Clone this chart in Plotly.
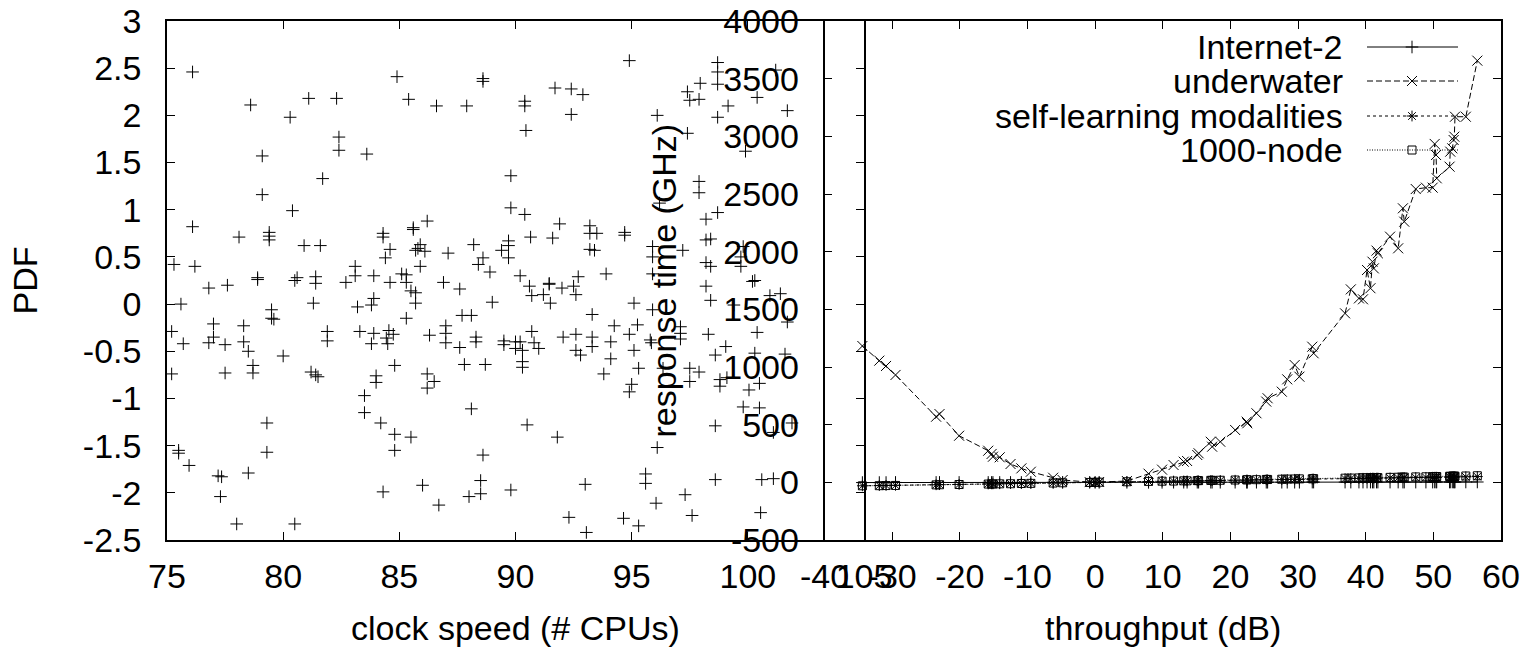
import plotly.graph_objects as go

W, H = 1526, 648

# ---------------- Left panel data: PDF vs clock speed ----------------
pdf_x = [
    76.1, 78.6, 80.3, 81.1, 82.3, 84.9, 85.4, 86.6, 87.9, 88.6, 88.6, 82.4, 82.4, 83.6, 79.1, 81.7, 79.1, 80.4,
    89.8, 89.8, 76.1, 78.1, 79.4, 79.4, 79.4, 80.9, 81.6, 84.3, 84.3, 84.6, 84.4, 85.6, 85.6, 86.2, 85.9, 85.7,
    86.1, 85.8, 87.1, 88.2, 89.4, 89.7, 89.7, 89.7, 88.6, 88.4, 88.9, 75.3, 76.2, 83.1, 83.1, 83.9, 85.1, 85.3,
    85.9, 78.9, 78.9, 80.6, 80.5, 81.4, 81.4, 82.7, 84.6, 85.3, 86.9,
    76.8, 77.6, 87.6, 85.5, 85.7, 83.9, 85.7, 89.0, 75.6, 81.3, 83.2, 83.8, 79.5, 79.5, 79.6, 85.3, 87.7, 88.1,
    77.0, 78.3, 87.0, 75.2, 81.9, 81.9, 83.3, 83.9, 84.55, 84.74, 84.44, 86.3, 87.0, 88.3, 88.3, 89.5, 89.5,
    75.7, 76.8, 77.0, 77.5, 78.3, 78.5, 83.8, 84.5, 87.0, 87.6, 80.0, 84.8, 87.8, 88.7, 75.2, 77.5, 78.7, 78.7,
    81.2, 81.4, 81.5, 84.0, 84.0, 86.2, 86.5, 86.2, 83.5, 83.5, 84.2, 84.8, 85.5, 84.8, 88.1, 88.6, 79.3, 79.3,
    75.5, 75.5, 75.95, 77.2, 77.35, 78.5, 77.3, 84.3, 86.0, 88.5, 88.5, 88.0, 89.8, 86.7, 78.0, 80.5,
    94.9, 91.7, 92.4, 92.9, 90.4, 90.4, 92.4, 90.45, 98.7, 98.7, 98.7, 97.95, 97.4, 97.5, 97.9, 99.15, 98.7,
    97.4, 96.1, 100.4, 101.7, 101.2, 99.9, 97.9, 97.9, 96.2, 98.7, 98.2, 90.4, 91.9, 90.65, 91.6, 93.2, 93.2,
    93.5, 94.7, 94.7, 93.2, 93.4, 97.2, 95.9, 95.9, 98.2, 98.4, 99.8, 99.7, 98.2, 98.4, 99.7, 100.3, 90.2,
    91.45, 92.7, 93.9, 95.9,
    90.6, 91.45, 92.0, 92.5, 90.7, 91.2, 91.5, 92.6, 93.3, 95.1, 95.9, 98.2, 98.4, 100.2, 99.4, 100.95, 101.4,
    101.7, 90.7, 90.0, 90.2, 90.0, 90.3, 90.3, 90.3, 90.8, 91.0, 92.05, 92.6, 92.6, 92.8, 93.3, 93.3, 94.1,
    94.1, 93.8, 94.25, 94.9, 95.25, 95.1, 95.3, 95.0, 94.9, 95.8, 95.85, 96.35, 97.1, 97.1, 97.1, 98.3, 97.5,
    97.9, 97.5, 98.6, 99.05, 98.8, 98.8, 99.1, 100.4, 100.3, 101.6, 100.05, 100.5, 99.8, 100.5, 98.6, 101.1,
    101.9, 90.5, 91.8, 96.1, 93.0, 95.6, 95.6, 96.05, 97.3, 98.6, 100.6, 101.1, 100.55, 97.6, 92.3, 94.65,
    95.3, 93.05,
]
pdf_y = [
    2.46, 2.11, 1.98, 2.18, 2.18, 2.41, 2.17, 2.10, 2.10, 2.39, 2.36, 1.77, 1.63, 1.59, 1.57, 1.33, 1.16, 0.99,
    1.36, 1.02, 0.82, 0.71, 0.76, 0.72, 0.68, 0.62, 0.62, 0.75, 0.71, 0.58, 0.49, 0.81, 0.79, 0.88, 0.63, 0.57,
    0.56, 0.59, 0.54, 0.63, 0.57, 0.67, 0.62, 0.49, 0.49, 0.42, 0.34, 0.42, 0.40, 0.40, 0.30, 0.30, 0.32, 0.31,
    0.40, 0.28, 0.26, 0.28, 0.25, 0.29, 0.22, 0.23, 0.23, 0.23, 0.23,
    0.17, 0.20, 0.16, 0.14, 0.12, 0.06, 0.01, 0.02, 0.00, 0.01, -0.03, -0.01, -0.06, -0.15, -0.16, -0.15, -0.12, -0.12,
    -0.21, -0.23, -0.23, -0.29, -0.29, -0.39, -0.29, -0.31, -0.28, -0.32, -0.36, -0.33, -0.31, -0.35, -0.40, -0.39, -0.43,
    -0.42, -0.41, -0.35, -0.43, -0.40, -0.50, -0.42, -0.42, -0.41, -0.46, -0.55, -0.65, -0.64, -0.64, -0.74, -0.73, -0.65, -0.73,
    -0.72, -0.75, -0.77, -0.76, -0.83, -0.74, -0.82, -0.89, -0.97, -1.15, -1.26, -1.38, -1.41, -1.55, -1.11, -1.60, -1.26, -1.57,
    -1.55, -1.58, -1.71, -1.82, -1.83, -1.79, -2.04, -1.99, -1.92, -1.87, -2.01, -2.04, -1.97, -2.13, -2.33, -2.33,
    2.58, 2.29, 2.28, 2.22, 2.15, 2.10, 2.01, 1.84, 2.56, 2.46, 2.33, 2.34, 2.25, 2.16, 2.17, 2.10, 1.98,
    1.81, 2.00, 2.19, 2.05, 2.48, 1.62, 1.30, 1.18, 1.07, 0.97, 0.90, 0.95, 0.85, 0.71, 0.70, 0.83, 0.75,
    0.75, 0.76, 0.73, 0.58, 0.57, 0.57, 0.61, 0.50, 0.68, 0.69, 0.61, 0.50, 0.44, 0.40, 0.40, 0.25, 0.30,
    0.22, 0.29, 0.32, 0.32,
    0.19, 0.21, 0.17, 0.19, 0.09, 0.10, 0.01, 0.10, -0.11, 0.01, -0.06, 0.19, 0.04, 0.24, -0.01, 0.09, 0.11,
    -0.19, -0.29, -0.40, -0.40, -0.47, -0.49, -0.61, -0.67, -0.41, -0.47, -0.35, -0.32, -0.49, -0.54, -0.35, -0.45, -0.40,
    -0.58, -0.74, -0.23, -0.32, -0.22, -0.49, -0.68, -0.85, -0.93, -0.38, -0.41, -0.68, -0.24, -0.31, -0.37, -0.32, -0.68,
    -0.72, -0.82, -0.54, -0.45, -0.80, -0.87, -0.78, -0.30, -0.52, -0.53, -0.91, -0.84, -1.09, -1.10, -1.29, -1.36,
    -1.26, -1.28, -1.41, -1.52, -1.91, -1.80, -1.90, -2.11, -2.02, -1.86, -1.86, -1.85, -2.21, -2.24, -2.26, -2.27,
    -2.35, -2.42,
]

# ---------------- Right panel data: response time vs throughput ----------------
thr_x = [
    -34.4, -31.9, -30.9, -29.5, -23.5, -23.0, -20.1, -15.8, -15.3, -15.1,
    -14.1, -12.5, -10.9, -9.5, -6.2, -4.8, -0.8, 0.0, 0.6, 4.7,
    7.9, 9.9, 11.6, 13.1, 13.6, 15.1, 15.3, 17.1, 17.3, 18.5,
    20.7, 22.4, 22.5, 23.85, 25.3, 25.5, 27.6, 28.4, 29.5, 30.2,
    32.1, 32.3, 36.95, 37.8, 39.0, 39.6, 40.2, 40.7, 41.0, 41.2,
    41.6, 41.8, 43.6, 44.8, 45.5, 45.7, 47.4, 48.9, 49.9, 50.2,
    50.4, 50.5, 52.4, 52.5, 52.8, 53.0, 53.1, 53.2, 54.8, 56.5,
]
internet2 = [
    -2, -2, -2, -1, -1, -1, -1, -1, -1, -1,
    -1, -1, -1, 0, 0, 0, 0, 0, 0, 0,
    0, 0, 1, 1, 1, 1, 1, 1, 1, 1,
    1, 1, 1, 1, 1, 1, 1, 1, 1, 1,
    2, 2, 2, 2, 2, 2, 2, 2, 2, 2,
    2, 2, 2, 2, 2, 2, 2, 2, 2, 3,
    3, 3, 3, 3, 3, 3, 3, 3, 3, 3,
]
underwater = [
    1182, 1055, 1009, 931, 569, 592, 404, 274, 246, 222,
    217, 159, 121, 92, 40, 20, 2, 0, 3, 11,
    75, 110, 150, 179, 185, 237, 252, 352, 309, 352,
    454, 526, 512, 599, 700, 729, 786, 893, 1017, 916,
    1176, 1119, 1465, 1673, 1595, 1587, 1841, 1683, 1913, 1855,
    2009, 1986, 2130, 2029, 2376, 2260, 2543, 2555, 2555, 2934,
    2838, 2636, 2737, 2867, 2896, 2968, 2997, 3170, 3170, 3656,
]
self_learning = [
    -30, -28, -27, -26, -21, -20, -18, -14, -13, -13,
    -12, -11, -10, -8, -5, -4, -1, 0, 1, 4,
    7, 9, 10, 11, 12, 13, 13, 15, 15, 16,
    18, 19, 19, 21, 22, 22, 24, 25, 26, 26,
    28, 28, 32, 33, 34, 35, 35, 36, 36, 36,
    36, 37, 38, 39, 40, 40, 41, 43, 44, 44,
    44, 44, 46, 46, 46, 47, 47, 47, 48, 50,
]
node1000 = [
    -30, -29, -28, -27, -22, -21, -19, -15, -14, -14,
    -13, -12, -10, -9, -6, -4, -1, 0, 1, 5,
    8, 10, 11, 13, 13, 15, 15, 17, 17, 18,
    20, 22, 22, 23, 25, 25, 27, 28, 29, 30,
    31, 32, 36, 37, 38, 39, 39, 40, 40, 40,
    41, 41, 43, 44, 45, 45, 47, 48, 49, 50,
    50, 50, 52, 52, 52, 53, 53, 53, 55, 57,
]

# ---------------- Tick labels ----------------
left_xticks = [75, 80, 85, 90, 95, 100, 105]
left_xlabels = ["75", "80", "85", "90", "95", "100", "105"]
left_yticks = [-2.5, -2, -1.5, -1, -0.5, 0, 0.5, 1, 1.5, 2, 2.5, 3]
left_ylabels = ["-2.5", "-2", "-1.5", "-1", "-0.5", "0", "0.5", "1", "1.5", "2", "2.5", "3"]
right_xticks = [-40, -30, -20, -10, 0, 10, 20, 30, 40, 50, 60]
right_xlabels = ["-40", "-30", "-20", "-10", "0", "10", "20", "30", "40", "50", "60"]
right_yticks = [-500, 0, 500, 1000, 1500, 2000, 2500, 3000, 3500, 4000]
right_ylabels = ["-500", "0", "500", "1000", "1500", "2000", "2500", "3000", "3500", "4000"]

series_names = ["Internet-2", "underwater", "self-learning modalities", "1000-node"]

FONT = "Liberation Sans, Arial, Helvetica, sans-serif"
FS = 34

def px(x):
    return x / W

def py(y):
    return 1 - y / H

PLOT_TOP, PLOT_BOT = 21, 540
L_LEFT, L_RIGHT = 167, 864
R_LEFT, R_RIGHT = 824.5, 1501

fig = go.Figure()

fig.add_trace(go.Scatter(
    x=pdf_x, y=pdf_y, mode="markers", xaxis="x", yaxis="y",
    marker=dict(symbol="cross-thin-open", size=9, color="black", line=dict(color="black", width=1)),
    showlegend=False, hoverinfo="skip",
))

styles = [
    dict(dash="solid", symbol="cross-thin-open", size=9),
    dict(dash="6px,3px", symbol="x-thin-open", size=10),
    dict(dash="3px,3px", symbol="asterisk-open", size=9),
    dict(dash="1px,1.5px", symbol="square-open", size=8),
]
series = [internet2, underwater, self_learning, node1000]

for name, ys, st in zip(series_names, series, styles):
    fig.add_trace(go.Scatter(
        x=thr_x, y=ys, mode="lines+markers", xaxis="x2", yaxis="y2", name=name,
        line=dict(color="black", width=1, dash=st["dash"]),
        marker=dict(symbol=st["symbol"], size=st["size"], color="black",
                    line=dict(color="black", width=1)),
        showlegend=False, hoverinfo="skip",
    ))

# gnuplot-style key (text left, sample right), drawn on a pixel overlay axis
leg_rows = [47, 81, 116, 150]
for name, st, ry in zip(series_names, styles, leg_rows):
    fig.add_trace(go.Scatter(
        x=[1367, 1458], y=[ry, ry], mode="lines", xaxis="x3", yaxis="y3",
        line=dict(color="black", width=1, dash=st["dash"]),
        showlegend=False, hoverinfo="skip",
    ))
    fig.add_trace(go.Scatter(
        x=[1412], y=[ry], mode="markers", xaxis="x3", yaxis="y3",
        marker=dict(symbol=st["symbol"], size=st["size"], color="black",
                    line=dict(color="black", width=1)),
        showlegend=False, hoverinfo="skip",
    ))

axis_common = dict(
    showline=True, linecolor="black", linewidth=1.5, mirror="ticks",
    ticks="inside", ticklen=8, tickwidth=1.2, tickcolor="black", automargin=False,
    showgrid=False, zeroline=False, tickfont=dict(family=FONT, size=FS, color="black"),
)

ydom = [py(PLOT_BOT), py(PLOT_TOP)]

fig.update_layout(
    template="none",
    width=W, height=H,
    margin=dict(l=0, r=0, t=0, b=0, pad=0),
    paper_bgcolor="white", plot_bgcolor="rgba(0,0,0,0)",
    font=dict(family=FONT, size=FS, color="black"),
    xaxis=dict(domain=[px(L_LEFT), px(L_RIGHT)], range=[75, 105], anchor="y",
               tickmode="array", tickvals=left_xticks, ticktext=left_xlabels,
               ticklabelstandoff=5, **axis_common),
    yaxis=dict(domain=ydom, range=[-2.5, 3], anchor="x",
               tickmode="array", tickvals=left_yticks, ticktext=left_ylabels,
               ticklabelstandoff=17, **axis_common),
    xaxis2=dict(domain=[px(R_LEFT), px(R_RIGHT)], range=[-40, 60], anchor="y2",
                tickmode="array", tickvals=right_xticks, ticktext=right_xlabels,
                ticklabelstandoff=5, **axis_common),
    yaxis2=dict(domain=ydom, range=[-500, 4000], anchor="x2",
                tickmode="array", tickvals=right_yticks, ticktext=right_ylabels,
                ticklabelstandoff=17, **axis_common),
    xaxis3=dict(domain=[0, 1], range=[0, W], visible=False, fixedrange=True, anchor="y3", automargin=False),
    yaxis3=dict(domain=[0, 1], range=[H, 0], visible=False, fixedrange=True, anchor="x3", automargin=False),
    showlegend=False,
)

ann = []
def text(t, x, y, xanchor="center", yanchor="middle", angle=0):
    ann.append(dict(text=t, x=px(x), y=py(y), xref="paper", yref="paper",
                    xanchor=xanchor, yanchor=yanchor, textangle=angle, showarrow=False,
                    font=dict(family=FONT, size=FS, color="black")))

text("PDF", 24, 280.5, angle=-90)
text("response time (GHz)", 663, 280.5, angle=-90)
text("clock speed (# CPUs)", (L_LEFT + L_RIGHT) / 2, 628)
text("throughput (dB)", (R_LEFT + R_RIGHT) / 2, 628)
for name, ry in zip(series_names, leg_rows):
    text(name, 1345, ry, xanchor="right")

fig.update_layout(annotations=ann)

fig.write_html(
    "out.html",
    config={"displayModeBar": False},
    post_script="document.body.style.margin='0';document.body.style.overflow='hidden';",
)
